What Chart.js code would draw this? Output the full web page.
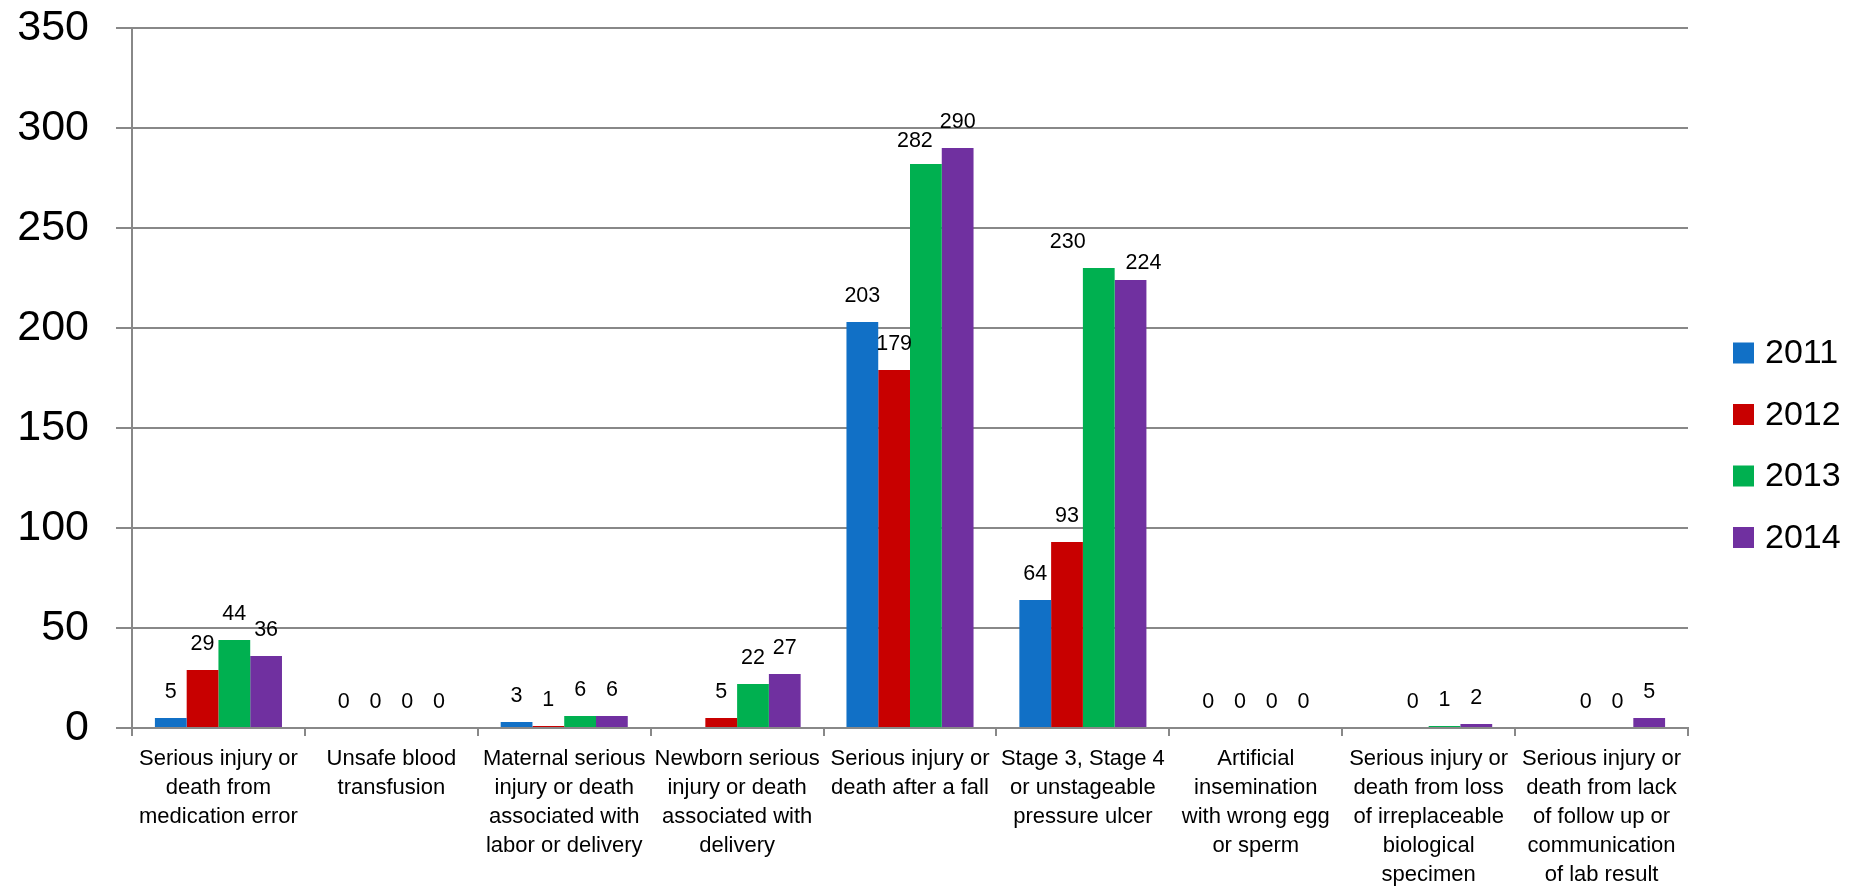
<!DOCTYPE html>
<html>
<head>
<meta charset="utf-8">
<title>Serious reportable events by type, 2011–2014</title>
<script src="https://cdn.jsdelivr.net/npm/chart.js@4.4.1/dist/chart.umd.min.js"></script>
<style>
  html, body { margin: 0; padding: 0; background: #ffffff; }
  canvas { display: block; }
</style>
</head>
<body>
<canvas id="chart" width="1858" height="886"></canvas>
<script>
// Event categories (each label pre-split into its display lines)
const categories = [
  ["Serious injury or", "death from", "medication error"],
  ["Unsafe blood", "transfusion"],
  ["Maternal serious", "injury or death", "associated with", "labor or delivery"],
  ["Newborn serious", "injury or death", "associated with", "delivery"],
  ["Serious injury or", "death after a fall"],
  ["Stage 3, Stage 4", "or unstageable", "pressure ulcer"],
  ["Artificial", "insemination", "with wrong egg", "or sperm"],
  ["Serious injury or", "death from loss", "of irreplaceable", "biological", "specimen"],
  ["Serious injury or", "death from lack", "of follow up or", "communication", "of lab result"]
];

// Yearly counts per category (null = not reported for that year)
const years = ["2011", "2012", "2013", "2014"];
const counts2011 = [5, 0, 3, null, 203, 64, 0, null, null];
const counts2012 = [29, 0, 1, 5, 179, 93, 0, 0, 0];
const counts2013 = [44, 0, 6, 22, 282, 230, 0, 1, 0];
const counts2014 = [36, 0, 6, 27, 290, 224, 0, 2, 5];

// Value axis ticks
const yTicks = [0, 50, 100, 150, 200, 250, 300, 350];

const seriesColors = ["#1170C6", "#C80000", "#00B050", "#7030A0"];
const seriesValues = [counts2011, counts2012, counts2013, counts2014];

const FONT = "'Liberation Sans', Arial, sans-serif";
const GRID = "#888888";

Chart.defaults.font.family = FONT;
Chart.defaults.color = "#000000";

// Writes each bar's value above it
const valueLabels = {
  id: "valueLabels",
  afterDatasetsDraw(chart, args, opts) {
    const ctx = chart.ctx;
    ctx.save();
    ctx.font = opts.size + "px " + FONT;
    ctx.fillStyle = "#000000";
    ctx.textAlign = "center";
    ctx.textBaseline = "middle";
    chart.data.datasets.forEach((ds, di) => {
      const meta = chart.getDatasetMeta(di);
      meta.data.forEach((bar, i) => {
        const v = ds.data[i];
        if (v === null || v === undefined) return;
        const nudge = (opts.nudges && opts.nudges[i + "," + di]) || [0, 0];
        ctx.fillText(String(v), bar.x + nudge[0], bar.y - opts.gap + nudge[1]);
      });
    });
    ctx.restore();
  }
};

// Series key on the right-hand side
const sideLegend = {
  id: "sideLegend",
  afterDraw(chart, args, opts) {
    const ctx = chart.ctx;
    ctx.save();
    ctx.font = opts.size + "px " + FONT;
    ctx.textAlign = "left";
    ctx.textBaseline = "middle";
    chart.data.datasets.forEach((ds, i) => {
      const cy = opts.firstY + i * opts.step;
      ctx.fillStyle = ds.backgroundColor;
      ctx.fillRect(opts.x, cy - opts.box / 2, opts.box, opts.box);
      ctx.fillStyle = "#000000";
      ctx.fillText(ds.label, opts.x + opts.box + opts.gap, cy + 1);
    });
    ctx.restore();
  }
};

new Chart(document.getElementById("chart"), {
  type: "bar",
  data: {
    labels: categories,
    datasets: years.map((y, i) => ({
      label: y,
      data: seriesValues[i],
      backgroundColor: seriesColors[i],
      borderWidth: 0,
      categoryPercentage: 0.735,
      barPercentage: 1.0
    }))
  },
  options: {
    responsive: false,
    devicePixelRatio: 1,
    animation: false,
    layout: { padding: { left: 0, top: 28, right: 170, bottom: 0 } },
    plugins: {
      legend: { display: false },
      tooltip: { enabled: false },
      valueLabels: {
        size: 21.5,
        gap: 26,
        nudges: { "4,2": [-11, 3], "5,2": [-31, 0], "5,3": [13, 9] }
      },
      sideLegend: { x: 1733, firstY: 353, step: 61.5, box: 21, gap: 11, size: 34 }
    },
    scales: {
      x: {
        offset: true,
        grid: {
          offset: true,
          drawOnChartArea: false,
          drawTicks: true,
          tickLength: 8,
          color: GRID,
          lineWidth: 2
        },
        border: { display: true, color: GRID, width: 2 },
        ticks: {
          autoSkip: false,
          maxRotation: 0,
          minRotation: 0,
          padding: 8,
          color: "#000000",
          font: { size: 22, lineHeight: 1.318 }
        },
        afterFit(scale) { scale.height = 158; }
      },
      y: {
        min: 0,
        max: 350,
        afterBuildTicks(scale) { scale.ticks = yTicks.map(v => ({ value: v })); },
        grid: {
          drawTicks: true,
          tickLength: 16,
          color: GRID,
          lineWidth: 2
        },
        border: { display: true, color: GRID, width: 2 },
        ticks: {
          padding: 27,
          color: "#000000",
          font: { size: 43 }
        },
        afterFit(scale) {
          scale.width = 132;
          scale.paddingTop = 0;
          scale.paddingBottom = 0;
        }
      }
    }
  },
  plugins: [valueLabels, sideLegend]
});
</script>
</body>
</html>
